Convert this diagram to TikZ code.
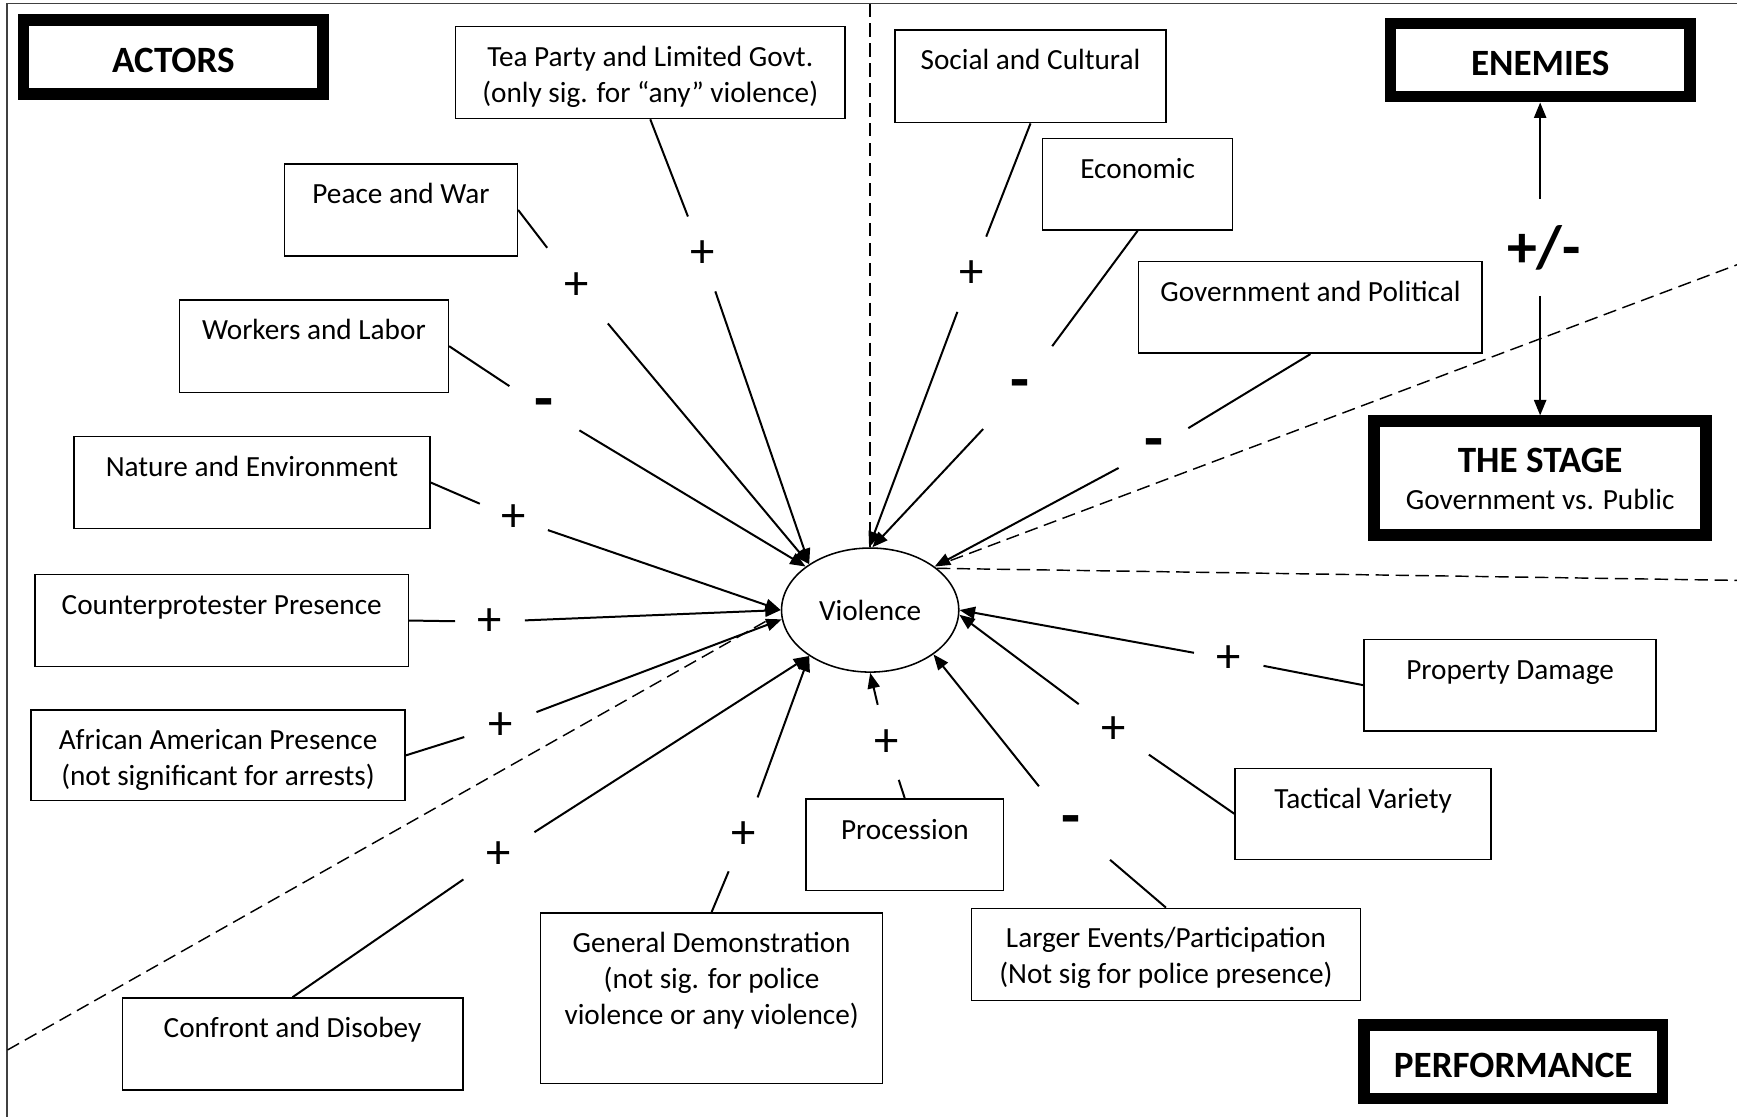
\documentclass[tikz,border=0pt]{standalone}
\usepackage{fontspec}
\setmainfont{Carlito}
\usetikzlibrary{arrows.meta,shapes.geometric}
\begin{document}
\begin{tikzpicture}[x=1pt,y=-1pt,
  every node/.style={inner sep=0pt, outer sep=0pt},
  txt/.style={font=\fontsize{26.4}{32.5}\selectfont, align=center},
  plainbox/.style={draw, line width=1.4pt, rectangle, outer sep=0.7pt},
  boxtxt/.style={txt, anchor=north, yshift=-14pt, execute at begin node=\strut},
  boxtxtm/.style={boxtxt, yshift=-4pt},
  heavy/.style={draw, line width=10.5pt, rectangle, outer sep=5.25pt,
    font=\bfseries\fontsize{33.5}{40}\selectfont, text height=27.6pt, text depth=0pt},
  psign/.style={circle, font=\fontsize{44}{50}\selectfont},
  msign/.style={circle, font=\bfseries\fontsize{56}{60}\selectfont},
  conn/.style={line width=1.8pt},
  arr/.style={conn, -{Triangle[length=14pt,width=11pt]}},
  divider/.style={line width=1.3pt, dash pattern=on 12pt off 6pt},
  framecol/.style={draw=black!75, line width=1.5pt}
]
\useasboundingbox (0,0) rectangle (1568,1008);
\fill[white] (0,0) rectangle (1568,1008);

% frame
\coordinate (frTR) at (1568,3.2);
\coordinate (frTL) at (6.6,3.2);
\coordinate (frBL) at (6.6,1008);
\draw[framecol] (frTR) -- (frTL) -- (frBL);

% heavy title boxes
\node[heavy, minimum width=270.5, minimum height=66.5] (actors) at (156.5,51.5) {ACTORS};
\node[heavy, minimum width=270.2, minimum height=66] (enemies) at (1390.3,54.25) {ENEMIES};
\node[heavy, minimum width=299.5, minimum height=102.5] (stage) at (1390.3,431.5) {};
\node[anchor=base, font=\bfseries\fontsize{33.5}{40}\selectfont] (stagetitle) at (1390.3,426.8) {THE STAGE};
\node[txt, anchor=base] (stagesub) at (1390.3,460) {Government vs. Public};
\node[heavy, minimum width=269.5, minimum height=66.5] (perf) at (1366,958.5) {PERFORMANCE};

% central node
\node[ellipse, draw, line width=1.4pt, outer sep=0.7pt, minimum width=160, minimum height=112,
  font=\fontsize{26.4}{32.5}\selectfont] (vio) at (785.5,550.7) {Violence};

% factor boxes
\node[plainbox, minimum width=352, minimum height=83,
  label={[boxtxtm]north:{Tea Party and Limited Govt.\\(only sig. for “any” violence)}}] (tea) at (587,65.5) {};
\node[plainbox, minimum width=210, minimum height=83,
  label={[boxtxt]north:{Peace and War}}] (peace) at (362,189.5) {};
\node[plainbox, minimum width=242.7, minimum height=83.4,
  label={[boxtxt]north:{Workers and Labor}}] (workers) at (283.35,312.5) {};
\node[plainbox, minimum width=321.4, minimum height=82.8,
  label={[boxtxt]north:{Nature and Environment}}] (nature) at (227.5,435.6) {};
\node[plainbox, minimum width=337, minimum height=83.3,
  label={[boxtxt]north:{Counterprotester Presence}}] (counter) at (200.1,560.15) {};
\node[plainbox, minimum width=337.6, minimum height=81.8,
  label={[boxtxtm]north:{African American Presence\\(not significant for arrests)}}] (aa) at (196.8,681.9) {};
\node[plainbox, minimum width=307.3, minimum height=83.1,
  label={[boxtxt]north:{Confront and Disobey}}] (confront) at (264.05,942.45) {};
\node[plainbox, minimum width=308.8, minimum height=154,
  label={[boxtxtm]north:{General Demonstration\\(not sig. for police\\violence or any violence)}}] (gendemo) at (642.4,901) {};
\node[plainbox, minimum width=178.4, minimum height=82.5,
  label={[boxtxt]north:{Procession}}] (procession) at (816.8,762.75) {};
\node[plainbox, minimum width=351, minimum height=83,
  label={[boxtxtm]north:{Larger Events/Participation\\(Not sig for police presence)}}] (larger) at (1052.5,861.5) {};
\node[plainbox, minimum width=231, minimum height=82.1,
  label={[boxtxt]north:{Tactical Variety}}] (tactical) at (1230.5,734.65) {};
\node[plainbox, minimum width=263.7, minimum height=82.8,
  label={[boxtxt]north:{Property Damage}}] (property) at (1363.15,618.5) {};
\node[plainbox, minimum width=244.5, minimum height=83.7,
  label={[boxtxt]north:{Social and Cultural}}] (social) at (930.25,68.85) {};
\node[plainbox, minimum width=171.5, minimum height=82.7,
  label={[boxtxt]north:{Economic}}] (economic) at (1026.95,166.25) {};
\node[plainbox, minimum width=310.1, minimum height=82.7,
  label={[boxtxt]north:{Government and Political}}] (gov) at (1182.95,277.55) {};

% signs (gap holders)
\node[psign, minimum size=72]   (stea)   at (634,229)     {+};
\node[psign, minimum size=87.6] (speace) at (520.6,258.4) {+};
\node[msign, minimum size=74.8] (swork)  at (491,369.2)   {-};
\node[psign, minimum size=66]   (snat)   at (463.4,467.8) {+};
\node[psign, minimum size=63]   (scount) at (442.3,561.3) {+};
\node[psign, minimum size=69]   (saa)    at (452,655)     {+};
\node[psign, minimum size=77]   (sconf)  at (450,772)     {+};
\node[psign, minimum size=71.7] (sgen)   at (671.6,753.5) {+};
\node[psign, minimum size=70.4] (sproc)  at (800.4,670.5) {+};
\node[msign, minimum size=92.8] (slarge) at (966.8,746)   {-};
\node[psign, minimum size=78]   (stact)  at (1005,659)    {+};
\node[psign, minimum size=63.9] (sprop)  at (1109.2,595)  {+};
\node[psign, minimum size=72.7] (ssoc)   at (877,247.5)   {+};
\node[msign, minimum size=97.6] (secon)  at (920.8,351.7) {-};
\node[msign, minimum size=72.5] (sgov)   at (1041.7,405.3){-};

% connectors
\draw[conn] (tea.south) -- (stea);       \draw[arr] (stea) -- (vio.143);
\draw[conn] (peace.east) -- (speace);    \draw[arr] (speace) -- (vio.143);
\draw[conn] (workers.east) -- (swork);   \draw[arr] (swork) -- (vio.146);
\draw[conn] (nature.east) -- (snat);     \draw[arr] (snat) -- (vio.180);
\draw[conn] (counter.east) -- (scount);  \draw[arr] (scount) -- (vio.180);
\draw[conn] (aa.east) -- (saa);          \draw[arr] (saa) -- (vio.186);
\draw[conn] (confront.north) -- (sconf); \draw[arr] (sconf) -- (vio.217);
\draw[conn] (gendemo.north) -- (sgen);   \draw[arr] (sgen) -- (vio.217);
\draw[conn] (procession.north) -- (sproc); \draw[arr] (sproc) -- (vio.270);
\draw[conn] (larger.north) -- (slarge);  \draw[arr] (slarge) -- (vio.325);
\draw[conn] (tactical.west) -- (stact);  \draw[arr] (stact) -- (vio.357);
\draw[conn] (property.west) -- (sprop);  \draw[arr] (sprop) -- (vio.0);
\draw[conn] (social.south) -- (ssoc);    \draw[arr] (ssoc) -- (vio.91);
\draw[conn] (economic.south) -- (secon); \draw[arr] (secon) -- (vio.88);
\draw[conn] (gov.south) -- (sgov);       \draw[arr] (sgov) -- (vio.34);

% enemies / stage link
\node[font=\bfseries\fontsize{54}{60}\selectfont, minimum height=87.3] (pm) at (1393.8,223.5) {+/-};
\draw[arr] (enemies.south |- pm.north) -- (enemies.south);
\draw[arr] (stage.north |- pm.south) -- (stage.north);

% dashed dividers
\coordinate (dvTop) at (785.5,3.2);
\coordinate (dvURs) at (858,506);
\coordinate (dvURe) at (1568,239);
\coordinate (dvRe) at (1568,523.9);
\coordinate (dvLLs) at (691,561);
\coordinate (dvLLe) at (6.6,947.9);
\draw[divider] (dvTop) -- (vio.north);
\draw[divider] (dvURs) -- (dvURe);
\draw[divider] (vio.32) -- (dvRe);
\draw[divider] (dvLLs) -- (dvLLe);
\end{tikzpicture}
\end{document}
